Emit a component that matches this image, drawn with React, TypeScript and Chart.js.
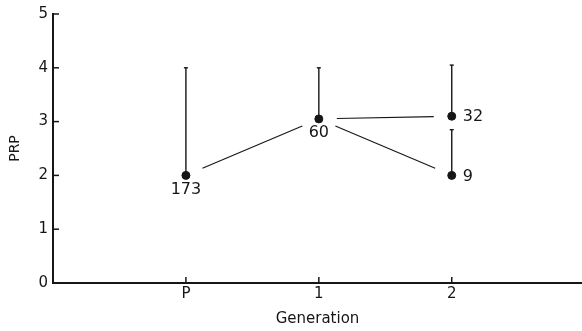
import React, { useEffect, useRef } from "react";
import { Chart, registerables } from "chart.js";

Chart.register(...registerables);

const categories = ["P", "1", "2"];
const categoryX = [1, 2, 3];
const pointX = [1, 2, 3, 3];
const pointY = [2.0, 3.05, 3.1, 2.0];
const errorTop = [4.0, 4.0, 4.05, 2.85];
const counts = ["173", "60", "32", "9"];
const countSide = ["below", "below", "right", "right"];
const links: number[][] = [[0, 1], [1, 2], [1, 3]];
const yTickValues = [0, 1, 2, 3, 4, 5];

const FONT = "'DejaVu Sans', sans-serif";
const INK = "#161616";

const decorPlugin = {
  id: "decor",
  beforeDatasetsDraw(chart: any) {
    const { ctx, scales } = chart;
    const xs = scales.x;
    const ys = scales.y;
    ctx.save();
    ctx.strokeStyle = INK;
    // error bars
    ctx.lineWidth = 1.4;
    for (let i = 0; i < pointX.length; i++) {
      const px = xs.getPixelForValue(pointX[i]);
      const py = ys.getPixelForValue(pointY[i]);
      const pt = ys.getPixelForValue(errorTop[i]);
      ctx.beginPath();
      ctx.moveTo(px, py);
      ctx.lineTo(px, pt);
      ctx.stroke();
      ctx.beginPath();
      ctx.moveTo(px - 2, pt);
      ctx.lineTo(px + 2, pt);
      ctx.stroke();
    }
    // connecting lines with gaps near the points
    ctx.lineWidth = 1.1;
    const gap = 18;
    for (const [a, b] of links) {
      const x1 = xs.getPixelForValue(pointX[a]);
      const y1 = ys.getPixelForValue(pointY[a]);
      const x2 = xs.getPixelForValue(pointX[b]);
      const y2 = ys.getPixelForValue(pointY[b]);
      const len = Math.hypot(x2 - x1, y2 - y1);
      const ux = (x2 - x1) / len;
      const uy = (y2 - y1) / len;
      ctx.beginPath();
      ctx.moveTo(x1 + ux * gap, y1 + uy * gap);
      ctx.lineTo(x2 - ux * gap, y2 - uy * gap);
      ctx.stroke();
    }
    ctx.restore();
  },
  afterDraw(chart: any) {
    const { ctx, scales, chartArea } = chart;
    const xs = scales.x;
    const ys = scales.y;
    ctx.save();
    ctx.strokeStyle = INK;
    ctx.lineWidth = 1.5;
    // inward y ticks
    for (const v of yTickValues) {
      if (v === 0) continue;
      const y = ys.getPixelForValue(v);
      ctx.beginPath();
      ctx.moveTo(chartArea.left, y);
      ctx.lineTo(chartArea.left + 6, y);
      ctx.stroke();
    }
    // inward x ticks
    for (const v of categoryX) {
      const x = xs.getPixelForValue(v);
      ctx.beginPath();
      ctx.moveTo(x, chartArea.bottom);
      ctx.lineTo(x, chartArea.bottom - 6);
      ctx.stroke();
    }
    // count labels
    ctx.fillStyle = INK;
    ctx.font = `16px ${FONT}`;
    for (let i = 0; i < pointX.length; i++) {
      const px = xs.getPixelForValue(pointX[i]);
      const py = ys.getPixelForValue(pointY[i]);
      if (countSide[i] === "below") {
        ctx.textAlign = "center";
        ctx.textBaseline = "top";
        ctx.fillText(counts[i], px, py + 6);
      } else {
        ctx.textAlign = "left";
        ctx.textBaseline = "middle";
        ctx.fillText(counts[i], px + 11, py + 1);
      }
    }
    ctx.restore();
  },
};

export default function App() {
  const canvasRef = useRef<HTMLCanvasElement | null>(null);

  useEffect(() => {
    document.body.style.margin = "0";
    const canvas = canvasRef.current;
    if (!canvas) return;
    const chart = new Chart(canvas, {
      type: "scatter",
      data: {
        datasets: [
          {
            data: pointX.map((x, i) => ({ x, y: pointY[i] })),
            pointRadius: 4,
            pointBackgroundColor: INK,
            pointBorderColor: INK,
            showLine: false,
          },
        ],
      },
      options: {
        responsive: false,
        animation: false,
        devicePixelRatio: 1,
        layout: { autoPadding: false, padding: { top: 13, right: 0, bottom: 0, left: 0 } },
        plugins: {
          legend: { display: false },
          tooltip: { enabled: false },
        },
        scales: {
          x: {
            type: "linear",
            min: 0,
            max: 3.98,
            afterFit(scale: any) {
              scale.height = 48;
            },
            afterBuildTicks(scale: any) {
              scale.ticks = categoryX.map((v) => ({ value: v }));
            },
            grid: { display: false, drawTicks: false },
            border: { display: true, color: INK, width: 2 },
            ticks: {
              padding: 2,
              color: INK,
              font: { family: FONT, size: 15 },
              callback: (v: any) => {
                const idx = categoryX.indexOf(Number(v));
                return idx >= 0 ? categories[idx] : "";
              },
            },
            title: {
              display: true,
              text: "Generation",
              color: INK,
              font: { family: FONT, size: 15 },
              padding: { top: 0, bottom: 3 },
            },
          },
          y: {
            type: "linear",
            min: 0,
            max: 5,
            afterFit(scale: any) {
              scale.width = 53;
            },
            afterBuildTicks(scale: any) {
              scale.ticks = yTickValues.map((v) => ({ value: v }));
            },
            grid: { display: false, drawTicks: false },
            border: { display: true, color: INK, width: 2 },
            ticks: {
              padding: 5,
              color: INK,
              font: { family: FONT, size: 15 },
              callback: (v: any) => String(v),
            },
            title: {
              display: true,
              text: "PRP",
              color: INK,
              font: { family: FONT, size: 14 },
              padding: { top: 7, bottom: 0 },
            },
          },
        },
      },
      plugins: [decorPlugin],
    } as any);
    return () => chart.destroy();
  }, []);

  return (
    <div style={{ width: 582, height: 331, background: "#fff" }}>
      <canvas ref={canvasRef} width={582} height={331} />
    </div>
  );
}
